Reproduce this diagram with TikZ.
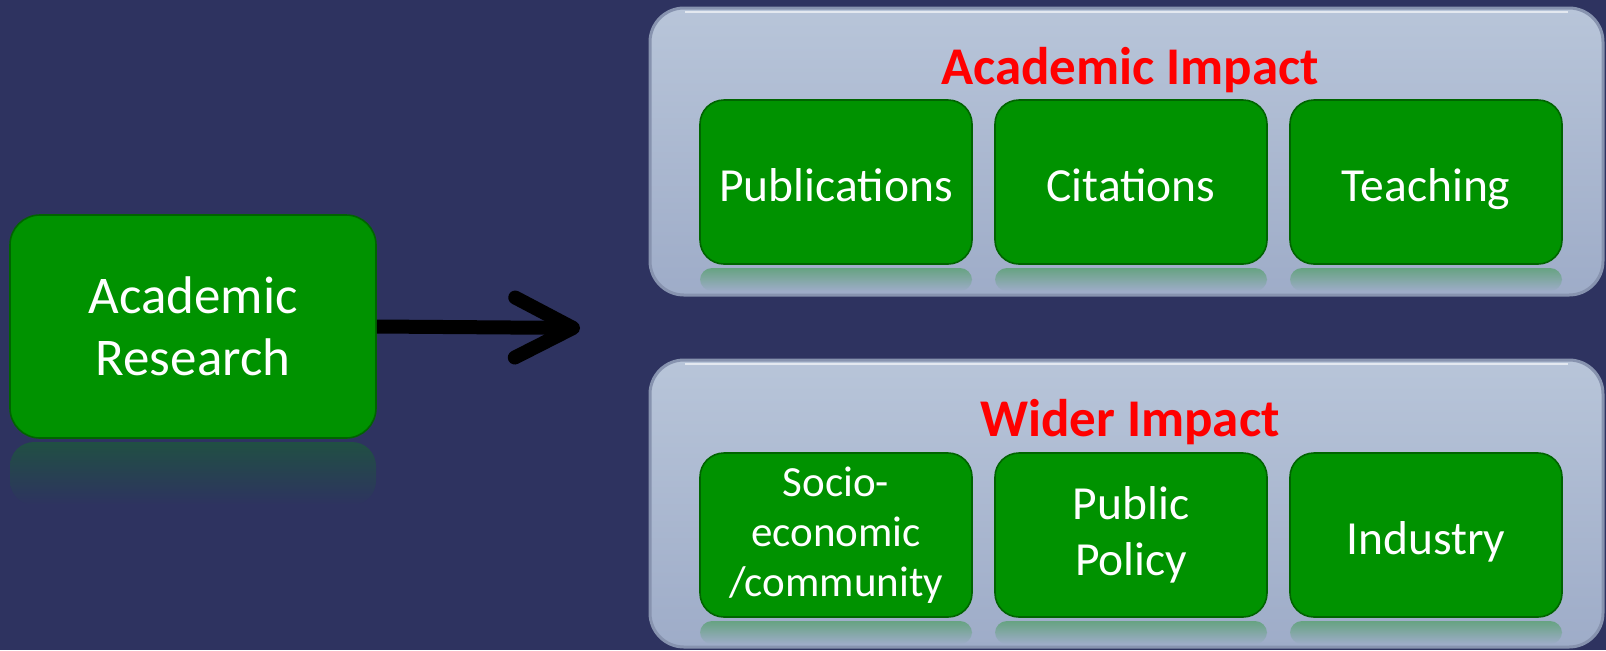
\documentclass[tikz,border=0pt]{standalone}
\usepackage{fontspec}
\setmainfont{Carlito}
\usetikzlibrary{arrows.meta}
\definecolor{navy}{RGB}{46,51,96}
\definecolor{boxgreen}{RGB}{0,146,0}
\definecolor{edgegreen}{RGB}{0,100,0}
\definecolor{paneltop}{RGB}{184,197,217}
\definecolor{panelbot}{RGB}{158,172,200}
\definecolor{paneledge}{RGB}{135,147,175}
\definecolor{titlered}{RGB}{255,0,0}
\begin{document}
\begin{tikzpicture}[x=0.5pt,y=-0.5pt,
    greenbox/.style={draw=edgegreen, line width=0.8pt, fill=boxgreen, rounded corners=12pt,
      text=white, align=center, minimum width=136pt, minimum height=82pt, inner sep=2pt,
      font=\fontsize{23.75}{28}\selectfont},
    oneline/.style={text height=19pt, text depth=0pt},
    panel/.style={draw=paneledge, line width=1.5pt, top color=paneltop, bottom color=panelbot,
      rounded corners=17pt, minimum width=476.5pt, minimum height=143.5pt},
    paneltitle/.style={text=titlered, font=\bfseries\fontsize{26.5}{31}\selectfont}]
    \fill[navy] (0,0) rectangle (1606,650);
    \useasboundingbox (0,0) rectangle (1606,650);
    % the two impact panels
    \node[panel] (acad) at (1126.5,151.5) {};
    \node[panel] (wide) at (1126.5,503.5) {};
    \draw[white!60!paneltop, line width=1.2pt] (685,12) -- (1568,12);
    \draw[white!60!paneltop, line width=1.2pt] (685,364) -- (1568,364);
    \foreach \x in {836,1131,1426}{
        \shade[top color=boxgreen!35!panelbot, bottom color=panelbot, rounded corners=6pt] (\x-136,268) rectangle (\x+136,291);
        \shade[top color=boxgreen!35!panelbot, bottom color=panelbot, rounded corners=6pt] (\x-136,621) rectangle (\x+136,644);
    }
    \node[paneltitle] (acadtitle) at (1130,70) {Academic Impact};
    \node[paneltitle] (widetitle) at (1130,422) {Wider Impact};
    \node[greenbox, oneline] (pub) at (836,182) {Publications};
    \node[greenbox, oneline] (cit) at (1131,182) {Citations};
    \node[greenbox, oneline] (teach) at (1426,182) {Teaching};
    \node[greenbox, font=\fontsize{21.5}{25}\selectfont] (socio) at (836,535) {Socio-\\economic\\/community};
    \node[greenbox] (policy) at (1131,535) {Public\\Policy};
    \node[greenbox, oneline] (industry) at (1426,535) {Industry};
    % research box and its mirror image
    \shade[top color=boxgreen!30!navy, bottom color=navy, rounded corners=12pt] (10,442) rectangle (376,505);
    \node[greenbox, minimum width=183pt, minimum height=111.5pt, rounded corners=15pt,
      font=\fontsize{26.5}{31}\selectfont] (research) at (193,326.5) {Academic\\Research};
    \coordinate (tip) at (580,328);
    \draw[line width=7pt, -{Straight Barb[length=29pt, width=30pt, round]}] (research.east) -- (tip);
\end{tikzpicture}
\end{document}
